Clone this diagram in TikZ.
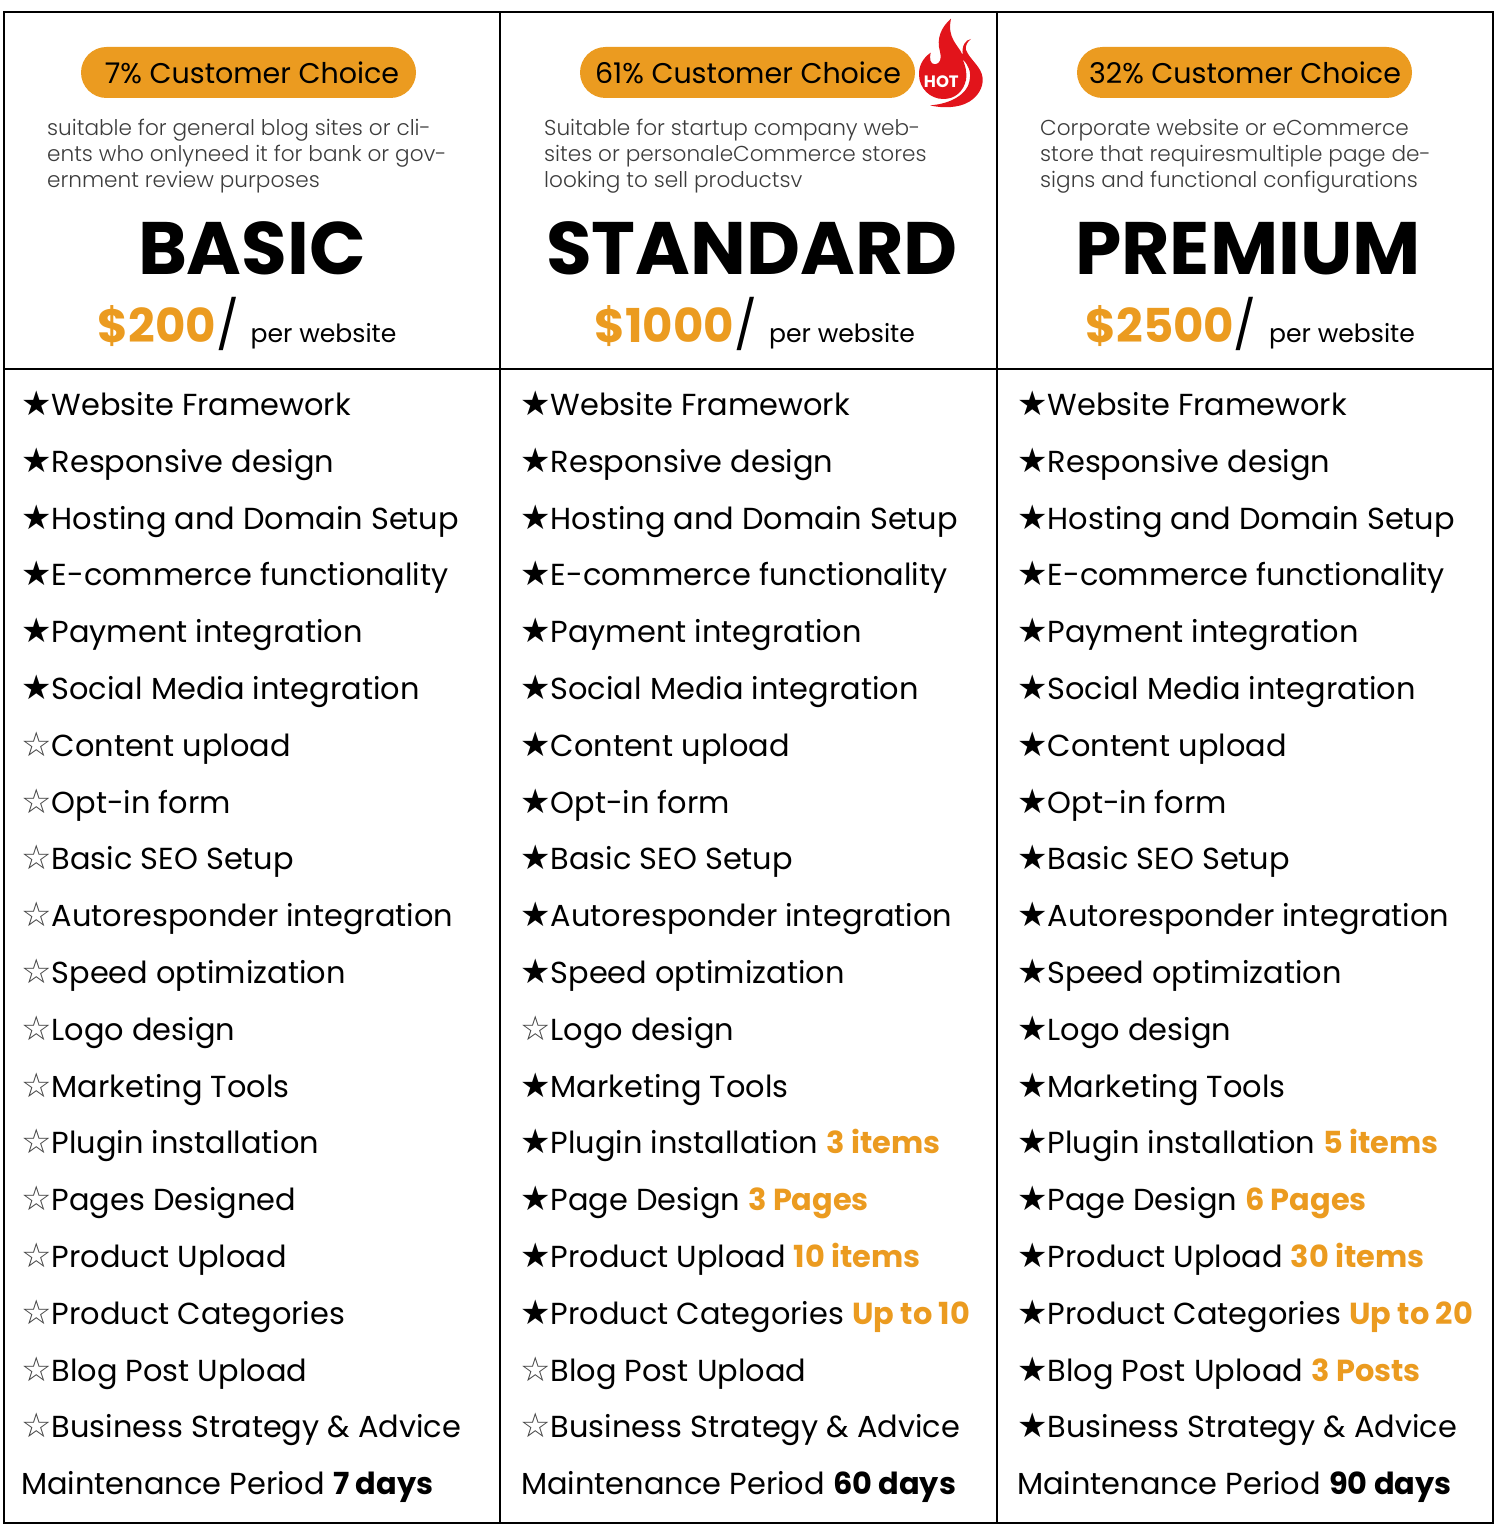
\documentclass[tikz,border=0pt]{standalone}
\usepackage{fontspec}
\usepackage{tikz}
\usetikzlibrary{positioning}
\setmainfont{Poppins}
\newfontfamily\starfont{DejaVu Sans}
\newfontfamily\lightfont{Poppins Light}
\definecolor{planorange}{HTML}{EB9B20}
\definecolor{hotred}{HTML}{E2141B}
\definecolor{descgray}{HTML}{3C3C3C}
\newcommand{\yes}{{\starfont\fontsize{34}{34}\selectfont ★}}
\newcommand{\nope}{{\starfont\fontsize{34}{34}\selectfont\color{black!75}☆}}
\newcommand{\hi}[1]{\textcolor{planorange}{\textbf{#1}}}
\newcommand{\pilltext}[1]{\raisebox{-2pt}{#1}}
\tikzset{
	grid line/.style={line width=2.4pt, black},
	pill node/.style={fill=planorange, rounded corners=25.5pt, minimum width=335pt, minimum height=51pt, inner sep=0pt, font=\fontsize{28.5}{30}\selectfont},
	desc node/.style={anchor=north west, align=left, inner sep=0pt, text=descgray, font=\lightfont\fontsize{21.6}{26}\selectfont},
	title node/.style={anchor=base, inner sep=0pt, font=\fontsize{74.3}{74}\selectfont\bfseries},
	price node/.style={anchor=base west, inner sep=0pt, text=planorange, font=\fontsize{46.7}{46}\selectfont\bfseries},
	slash node/.style={anchor=base west, inner sep=0pt, font=\fontsize{48}{48}\selectfont},
	per node/.style={anchor=base west, inner sep=0pt, font=\fontsize{25.1}{28}\selectfont},
	row node/.style={anchor=base west, inner sep=0pt, font=\fontsize{30.4}{34}\selectfont},
}
\begin{document}
\begin{tikzpicture}[x=1pt, y=-1pt]
	\useasboundingbox (0,0) rectangle (1500,1533);
	% Grid
	\draw[grid line] (4,12) rectangle (1493,1523);
	\draw[grid line] (500,12) -- (500,1523);
	\draw[grid line] (997,12) -- (997,1523);
	\draw[grid line] (4,369) -- (1493,369);
	% Heads
	\node[pill node] (pill1) at (248.5,72.5) {\pilltext{\hspace*{7pt}7\% Customer Choice}};
	\node[pill node] (pill2) at (747.5,72.5) {\pilltext{\hspace*{1pt}61\% Customer Choice}};
	\node[pill node] (pill3) at (1244.5,72.5) {\pilltext{\hspace*{1pt}32\% Customer Choice}};
	\node[desc node] (desc1) at (47,119) {suitable for general blog sites or cli-\\ents who onlyneed it for bank or gov-\\ernment review purposes};
	\node[desc node] (desc2) at (544,119) {Suitable for startup company web-\\sites or personaleCommerce stores\\looking to sell productsv};
	\node[desc node] (desc3) at (1040,119) {Corporate website or eCommerce\\store that requiresmultiple page de-\\signs and functional configurations};
	\node[title node] (title1) at (252,274) {BASIC};
	\node[title node] (title2) at (752,274) {STANDARD};
	\node[title node] (title3) at (1248,274) {PREMIUM};
	% Prices
	\node[price node] (price1) at (97.5,342) {\$200};
	\node[price node] (price2) at (594.5,342) {\$1000};
	\node[price node] (price3) at (1085.5,342) {\$2500};
	\node[slash node] (slash1) at (216.5,342) {/};
	\node[slash node] (slash2) at (734.5,342) {/};
	\node[slash node] (slash3) at (1233.5,342) {/};
	\node[per node] (per1) at (250.5,342) {per website};
	\node[per node] (per2) at (769,342) {per website};
	\node[per node] (per3) at (1269,342) {per website};
	% Flame
	\begin{scope}[shift={(880,0)}, x=0.3333pt, y=-0.3333pt]
		\fill[hotred] (213,56) .. controls (185,80) and (168,115) .. (180,155)
			.. controls (186,175) and (180,192) .. (165,193)
			.. controls (150,193) and (148,175) .. (152,158)
			.. controls (128,175) and (116,198) .. (117,225)
			.. controls (118,265) and (150,297) .. (190,297)
			.. controls (225,297) and (250,275) .. (258,240)
			.. controls (262,215) and (255,195) .. (248,178)
			.. controls (265,195) and (275,215) .. (268,245)
			.. controls (262,280) and (215,312) .. (150,316)
			.. controls (185,325) and (235,325) .. (268,305)
			.. controls (295,288) and (310,262) .. (308,235)
			.. controls (305,200) and (270,180) .. (258,150)
			.. controls (255,138) and (262,125) .. (273,117)
			.. controls (255,120) and (245,138) .. (248,165)
			.. controls (235,135) and (200,115) .. (213,56) -- cycle;
		\node[inner sep=0pt, text=white, font=\fontsize{16.5}{16}\selectfont\bfseries] (hot) at (184,246) {HOT};
	\end{scope}
	% Rows
	\foreach \txt [count=\i from 0] in {\yes Website Framework, \yes Responsive design, \yes Hosting and Domain Setup, \yes E-commerce functionality, \yes Payment integration, \yes Social Media integration, \nope Content upload, \nope Opt-in form, \nope Basic SEO Setup, \nope Autoresponder integration, \nope Speed optimization, \nope Logo design, \nope Marketing Tools, \nope Plugin installation, \nope Pages Designed, \nope Product Upload, \nope Product Categories, \nope Blog Post Upload, \nope Business Strategy \& Advice}
		\node[row node] (basic\i) at (21,415.5+56.8*\i) {\txt};
	\foreach \txt [count=\i from 0] in {\yes Website Framework, \yes Responsive design, \yes Hosting and Domain Setup, \yes E-commerce functionality, \yes Payment integration, \yes Social Media integration, \yes Content upload, \yes Opt-in form, \yes Basic SEO Setup, \yes Autoresponder integration, \yes Speed optimization, \nope Logo design, \yes Marketing Tools, \yes Plugin installation \hi{3 items}, \yes Page Design \hi{3 Pages}, \yes Product Upload \hi{10 items}, \yes Product Categories \hi{Up to 10}, \nope Blog Post Upload, \nope Business Strategy \& Advice}
		\node[row node] (standard\i) at (520,415.5+56.8*\i) {\txt};
	\foreach \txt [count=\i from 0] in {\yes Website Framework, \yes Responsive design, \yes Hosting and Domain Setup, \yes E-commerce functionality, \yes Payment integration, \yes Social Media integration, \yes Content upload, \yes Opt-in form, \yes Basic SEO Setup, \yes Autoresponder integration, \yes Speed optimization, \yes Logo design, \yes Marketing Tools, \yes Plugin installation \hi{5 items}, \yes Page Design \hi{6 Pages}, \yes Product Upload \hi{30 items}, \yes Product Categories \hi{Up to 20}, \yes Blog Post Upload \hi{3 Posts}, \yes Business Strategy \& Advice}
		\node[row node] (premium\i) at (1017,415.5+56.8*\i) {\txt};
	% Maintenance
	\node[row node] (keep1) at (21,1494.5) {Maintenance Period \textbf{7 days}};
	\node[row node] (keep2) at (521,1494.5) {Maintenance Period \textbf{60 days}};
	\node[row node] (keep3) at (1017,1494.5) {Maintenance Period \textbf{90 days}};
\end{tikzpicture}
\end{document}
